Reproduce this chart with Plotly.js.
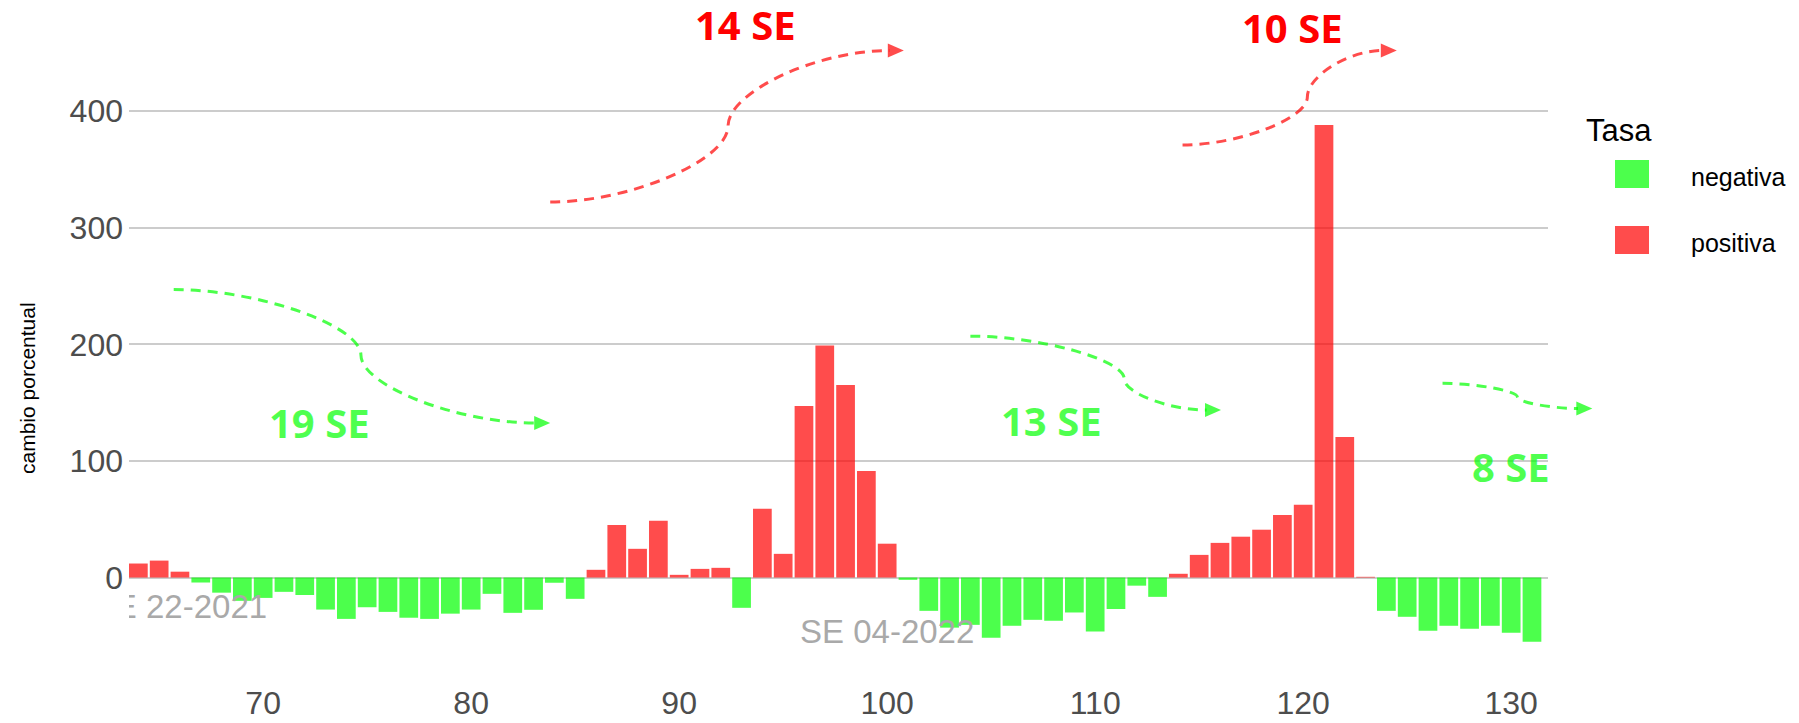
<!DOCTYPE html>
<html>
<head>
<meta charset="utf-8">
<script src="https://cdn.plot.ly/plotly-3.0.1.min.js"></script>
<style>html,body{margin:0;padding:0;background:#fff;}#chart{width:1799px;height:723px;}</style>
</head>
<body>
<div id="chart"></div>
<script>
// ---- data ----
const semanas = [64,65,66,67,68,69,70,71,72,73,74,75,76,77,78,79,80,81,82,83,84,85,86,87,88,89,90,91,92,93,94,95,96,97,98,99,100,101,102,103,104,105,106,107,108,109,110,111,112,113,114,115,116,117,118,119,120,121,122,123,124,125,126,127,128,129,130,131];
const cambio = [12,14.5,5,-4.3,-13,-20,-17.5,-12.3,-15,-27.5,-35.5,-25.5,-29.5,-34.5,-35.5,-31,-27.5,-14,-30.3,-27.7,-4.5,-18.3,6.6,45,24.6,48.6,2.3,7.4,8.3,-26,59,20.3,147,199,165,91.4,29,-2,-28.6,-43,-40.6,-51.7,-41.4,-36.3,-37.1,-30,-46.3,-27,-7,-16.6,3.2,19.4,29.7,35,41,53.7,62.3,388,120.6,0.6,-28.6,-33.7,-45.7,-41.4,-44,-41.4,-47.4,-55];
const xTicks = [70,80,90,100,110,120,130];
const yTicks = [0,100,200,300,400];
const tasaNames = ['negativa','positiva'];
const yTitle = 'cambio porcentual';

// period labels (grey, clipped by plot area)
const periodText = ['SE 22-2021','SE 04-2022'];
const periodX = [66,100];
const periodY = [-28,-49.5];

// streak labels
const streakText = ['19 SE','14 SE','13 SE','10 SE','8 SE'];
const streakX = [72.7,93.2,107.9,119.5,130];
const streakY = [133,474,135,472,95];
const streakSign = ['neg','pos','neg','pos','neg'];

// curved arrows: start -> inflection -> tip
const arrowX0 = [65.7,83.8,104,114.2,126.7];
const arrowY0 = [247,322,207,371,166.5];
const arrowXm = [74.7,92.35,111.4,120.2,130.3];
const arrowYm = [190.8,387.2,170.2,412,154.8];
const arrowX1 = [83.8,100.8,116.05,124.5,133.9];
const arrowY1 = [132.5,452,143.6,452,145];
const arrowSign = ['neg','pos','neg','pos','neg'];

// ---- styles ----
const RED = 'rgba(255,0,0,0.7)';
const GREEN = 'rgba(0,255,0,0.7)';
const TXT_RED = '#FF0000';
const TXT_GREEN = 'rgba(0,255,0,0.7)';
const XR = [63.55,131.77];
const YR = [-81.9,495.3];
const M = {l:129, r:251, t:0, b:50};
const W = 1799, H = 723;
const PL = M.l, PR = W - M.r, PT = M.t, PB = H - M.b;
const fx = px => (px - PL) / (PR - PL);
const fy = py => (PB - py) / (PB - PT);
const dx = x => (x - XR[0]) / (XR[1] - XR[0]);
const dy = y => (y - YR[0]) / (YR[1] - YR[0]);
const FONT = 'Liberation Sans, Arial, sans-serif';
const NARROW = 'Liberation Sans Narrow, Arial Narrow, Liberation Sans, Arial, sans-serif';

const negX = [], negY = [], posX = [], posY = [];
semanas.forEach((s,i) => { if (cambio[i] < 0) { negX.push(s); negY.push(cambio[i]); } else { posX.push(s); posY.push(cambio[i]); } });

const traces = [
  {type:'bar', x:negX, y:negY, name:tasaNames[0], marker:{color:GREEN, line:{width:0}}, width:0.9, showlegend:false, hoverinfo:'skip'},
  {type:'bar', x:posX, y:posY, name:tasaNames[1], marker:{color:RED, line:{width:0}}, width:0.9, showlegend:false, hoverinfo:'skip'},
  {type:'scatter', mode:'text', x:periodX, y:periodY, text:periodText, textposition:'middle center',
   textfont:{family:FONT, size:33, color:'#A9A9A9'}, cliponaxis:true, showlegend:false, hoverinfo:'skip'}
];

const shapes = [];
const annotations = [];
const headLen = 16, headHalf = 7;
const k = 0.45;
for (let i = 0; i < arrowX0.length; i++) {
  const col = arrowSign[i] === 'pos' ? RED : GREEN;
  const x0 = dx(arrowX0[i]), y0 = dy(arrowY0[i]);
  const xm = dx(arrowXm[i]), ym = dy(arrowYm[i]);
  const xt = dx(arrowX1[i]), yt = dy(arrowY1[i]);
  const x1 = xt - headLen / (PR - PL) * 0.9, y1 = yt;
  const c1 = `${x0 + k*(xm-x0)},${y0}`;
  const c2 = `${xm},${ym + k*(y0-ym)}`;
  const c3 = `${xm},${ym + k*(y1-ym)}`;
  const c4 = `${x1 - k*(x1-xm)},${y1}`;
  shapes.push({type:'path', xref:'paper', yref:'paper', layer:'above',
    path:`M${x0},${y0} C${c1} ${c2} ${xm},${ym} C${c3} ${c4} ${x1},${y1}`,
    line:{color:col, width:3, dash:'10px,7px'}});
  shapes.push({type:'path', xref:'paper', yref:'paper', xsizemode:'pixel', ysizemode:'pixel',
    xanchor:xt, yanchor:yt, layer:'above',
    path:`M${-headLen},${-headHalf} L0,0 L${-headLen},${headHalf} Z`,
    fillcolor:col, line:{width:0}});
}
for (let i = 0; i < streakText.length; i++) {
  annotations.push({xref:'x', yref:'y', x:streakX[i], y:streakY[i], text:'<b>'+streakText[i]+'</b>', showarrow:false,
    font:{family:'Open Sans, Noto Sans, sans-serif', size:40, color: streakSign[i]==='pos' ? TXT_RED : TXT_GREEN},
    xanchor:'center', yanchor:'middle'});
}
// y-axis title
annotations.push({xref:'paper', yref:'paper', x:fx(28), y:fy(388), text:yTitle, textangle:-90, showarrow:false,
  xanchor:'center', yanchor:'middle', font:{family:NARROW, size:21, color:'#000'}});
// legend (Tasa)
annotations.push({xref:'paper', yref:'paper', x:fx(1584), y:fy(130), text:'Tasa', showarrow:false, xanchor:'left', yanchor:'middle',
  font:{family:FONT, size:31, color:'#000'}});
const legCols = [GREEN, RED];
const legY = [174, 240];
for (let i = 0; i < tasaNames.length; i++) {
  shapes.push({type:'rect', xref:'paper', yref:'paper', x0:fx(1615), x1:fx(1649), y0:fy(legY[i]-14), y1:fy(legY[i]+14),
    fillcolor:legCols[i], line:{width:0}});
  annotations.push({xref:'paper', yref:'paper', x:fx(1689), y:fy(legY[i]+3), text:tasaNames[i], showarrow:false, xanchor:'left', yanchor:'middle',
    font:{family:NARROW, size:25, color:'#000'}});
}

const layout = {
  width:W, height:H, margin:M, paper_bgcolor:'#fff', plot_bgcolor:'#fff',
  barmode:'relative', bargap:0.1, showlegend:false,
  xaxis:{range:XR, tickvals:xTicks, ticktext:xTicks.map(String), showgrid:false, zeroline:false, showline:false, ticks:'',
    tickfont:{family:FONT, size:32, color:'#4D4D4D'}, ticklabelstandoff:8, automargin:false, fixedrange:true},
  yaxis:{range:YR, tickvals:yTicks, ticktext:yTicks.map(String), showgrid:true, gridcolor:'#CCCCCC', gridwidth:2, zeroline:false,
    showline:false, ticks:'', tickfont:{family:FONT, size:32, color:'#4D4D4D'}, ticklabelstandoff:5, automargin:false, fixedrange:true},
  shapes:shapes, annotations:annotations, hovermode:false
};
Plotly.newPlot('chart', traces, layout, {displayModeBar:false, staticPlot:true});
</script>
</body>
</html>
